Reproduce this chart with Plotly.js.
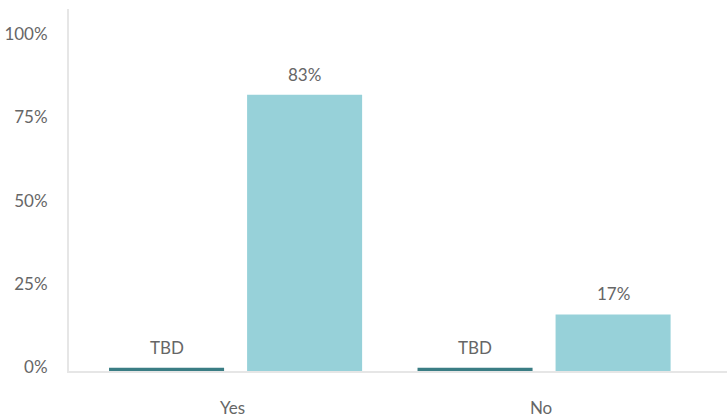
<!DOCTYPE html>
<html>
<head>
<meta charset="utf-8">
<script src="https://cdn.plot.ly/plotly-3.0.1.min.js"></script>
<style>
  html, body { margin: 0; padding: 0; background: #ffffff; }
  #chart { width: 727px; height: 418px; }
</style>
</head>
<body>
<div id="chart"></div>
<script>
// Survey answers, two series per answer
const categories = ['Yes', 'No'];
const baselineValues = [1, 1];          // not yet measured, shown as a thin bar
const baselineLabels = ['TBD', 'TBD'];
const currentValues = [83, 17];
const currentLabels = ['83%', '17%'];
const yTicks = [0, 25, 50, 75, 100];
const yTickText = ['0%', '25%', '50%', '75%', '100%'];

const darkTeal = '#3a7d84';
const lightTeal = '#97d1d9';
const textGray = '#666666';
const fontFamily = 'Lato, "Open Sans", sans-serif';
const fontSize = 17;

// Group layout: two bars per category
const bargap = 0.105;
const slot = (1 - bargap) / 2;   // width of each bar's slot, in category units

const traces = [
  {
    type: 'bar', name: 'Baseline', x: categories, y: baselineValues,
    marker: { color: darkTeal }, hoverinfo: 'skip'
  },
  {
    type: 'bar', name: 'Current', x: categories, y: currentValues,
    marker: { color: lightTeal }, hoverinfo: 'skip'
  }
];

// Data labels sit above each bar, anchored on the bar's value
const annotations = [];
categories.forEach((c, i) => {
  annotations.push({
    xref: 'x', yref: 'y', x: i - slot / 2, y: baselineValues[i],
    text: baselineLabels[i], showarrow: false, yanchor: 'bottom', yshift: 8,
    font: { family: fontFamily, size: fontSize, color: textGray }
  });
  annotations.push({
    xref: 'x', yref: 'y', x: i + slot / 2, y: currentValues[i],
    text: currentLabels[i], showarrow: false, yanchor: 'bottom', yshift: 8,
    font: { family: fontFamily, size: fontSize, color: textGray }
  });
});

const layout = {
  width: 727, height: 418,
  margin: { l: 69, r: 0, t: 9, b: 46.5 },
  paper_bgcolor: '#ffffff', plot_bgcolor: '#ffffff',
  showlegend: false,
  barmode: 'group',
  bargap: bargap,
  bargroupgap: 0.1667,
  xaxis: {
    type: 'category',
    range: [-0.54, 1.593],
    showgrid: false, zeroline: false,
    showline: true, linecolor: '#e6e6e6', linewidth: 2,
    ticks: '', ticklabelstandoff: 21, ticklabelshift: -3,
    tickfont: { family: fontFamily, size: fontSize, color: textGray },
    fixedrange: true
  },
  yaxis: {
    range: [0, 108.8],
    tickvals: yTicks, ticktext: yTickText,
    showgrid: false, zeroline: false,
    showline: true, linecolor: '#e6e6e6', linewidth: 2,
    ticks: '', ticklabelstandoff: 16, ticklabelshift: -4,
    tickfont: { family: fontFamily, size: fontSize, color: textGray },
    fixedrange: true
  },
  annotations: annotations
};

Plotly.newPlot('chart', traces, layout, { displayModeBar: false, staticPlot: true });
</script>
</body>
</html>
